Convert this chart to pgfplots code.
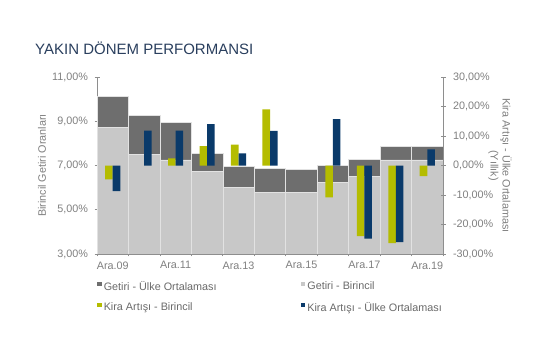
\documentclass[border=0pt]{standalone}
\usepackage{pgfplots}
\pgfplotsset{compat=1.18}
\usepackage{fontspec}
\setmainfont{Liberation Sans}
\definecolor{darkg}{HTML}{6E6E6E}
\definecolor{lightg}{HTML}{C8C8C8}
\definecolor{sepc}{HTML}{E2E2E2}
\definecolor{kgreen}{HTML}{B4BC00}
\definecolor{knavy}{HTML}{0A3A6A}
\definecolor{txtg}{HTML}{808080}
\definecolor{legc}{HTML}{6A6A6A}
\definecolor{axisg}{HTML}{8E8E8E}
\definecolor{titlec}{HTML}{2A3F5E}
\newcommand\tfont{\fontsize{10.8bp}{12bp}\selectfont}
\pgfplotsset{
  sqleg/.style={legend image code/.code={\fill[##1] (0bp,0bp) rectangle (4.6bp,4.6bp);}},
  base/.style={
    at={(97bp,101bp)}, anchor=south west, scale only axis,
    width=346bp, height=177bp, xmin=0, xmax=11,
    axis line style={draw=axisg, line width=0.8bp, -},
    tick align=center, major tick length=5bp,
    tick style={draw=axisg, line width=0.8bp},
    ticklabel style={font=\tfont, text=txtg},
    /pgf/number format/assume math mode=true,
    unbounded coords=discard,
  }
}
\pgfplotstableread{
x U L
0.5 10.12 8.73
1.5 9.25 7.51
2.5 8.96 7.25
3.5 7.56 6.75
4.5 6.95 6.01
5.5 6.86 5.78
6.5 6.84 5.78
7.5 7.00 6.24
8.5 7.28 6.49
9.5 7.88 7.25
10.5 7.88 7.25
}\getiri
\pgfplotstableread{
x G N
0.5 -4.7 -8.7
1.5 nan 11.8
2.5 2.4 11.8
3.5 6.6 14.0
4.5 7.1 4.1
5.5 19.0 11.7
6.5 nan nan
7.5 -10.8 15.7
8.5 -23.9 -24.8
9.5 -26.3 -26.0
10.5 -3.6 5.5
}\kira
\begin{document}
\begin{tikzpicture}
\fill[white] (0,0) rectangle (555bp,355bp);
\node[anchor=base west, text=titlec, font=\fontsize{15bp}{17bp}\selectfont, inner sep=0pt] at (35bp,300bp) {YAKIN DÖNEM PERFORMANSI};
\begin{axis}[base,
  ymin=3, ymax=11,
  axis y line*=left, axis x line*=bottom,
  ytick={3,5,7,9,11},
  yticklabels={{3,00\%},{5,00\%},{7,00\%},{9,00\%},{11,00\%}},
  xtick={0,...,11}, xticklabels={},
  extra x ticks={0.5,2.5,4.5,6.5,8.5,10.5},
  extra x tick labels={Ara.09,Ara.11,Ara.13,Ara.15,Ara.17,Ara.19},
  extra x tick style={major tick length=0pt},
  yticklabel style={xshift=-3bp},
  xticklabel style={yshift=-4bp},
  ylabel={Birincil Getiri Oranları},
  ylabel style={at={(axis description cs:-0.159,0.5)}, anchor=center, font=\tfont, text=txtg},
]
\addplot[ybar, bar width=1, bar shift=0, fill=darkg, draw=sepc, line width=0.6bp] table[x=x,y=U] {\getiri};
\addplot[ybar, bar width=1, bar shift=0, fill=lightg, draw=sepc, line width=0.6bp] table[x=x,y=L] {\getiri};
\end{axis}
\begin{axis}[base,
  ymin=-30, ymax=30,
  axis y line*=right, axis x line=none,
  ytick={-30,-20,...,30},
  yticklabels={{-30,00\%},{-20,00\%},{-10,00\%},{0,00\%},{10,00\%},{20,00\%},{30,00\%}},
  yticklabel style={xshift=4bp},
  ylabel={Kira Artışı - Ülke Ortalaması\\(Yıllık)},
  ylabel style={at={(axis description cs:1.165,0.5)}, anchor=center, rotate=180, align=center, font=\tfont, text=txtg},
  legend columns=2,
  legend cell align=left,
  legend style={at={(axis description cs:0,-0.13)}, anchor=north west, draw=none, fill=none,
    font=\tfont, text=legc, inner xsep=0pt, row sep=6.5bp},
]
\addlegendimage{sqleg, fill=darkg, draw=none}
\addlegendentry{\makebox[195bp][l]{Getiri - Ülke Ortalaması}}
\addlegendimage{sqleg, fill=lightg, draw=none}
\addlegendentry{Getiri - Birincil}
\addplot[ybar, bar width=0.24, bar shift=-0.12, fill=kgreen, draw=none, sqleg] table[x=x,y=G] {\kira};
\addlegendentry{\makebox[195bp][l]{Kira Artışı - Birincil}}
\addplot[ybar, bar width=0.24, bar shift=0.12, fill=knavy, draw=none, sqleg] table[x=x,y=N] {\kira};
\addlegendentry{Kira Artışı - Ülke Ortalaması}
\end{axis}
\end{tikzpicture}
\end{document}
